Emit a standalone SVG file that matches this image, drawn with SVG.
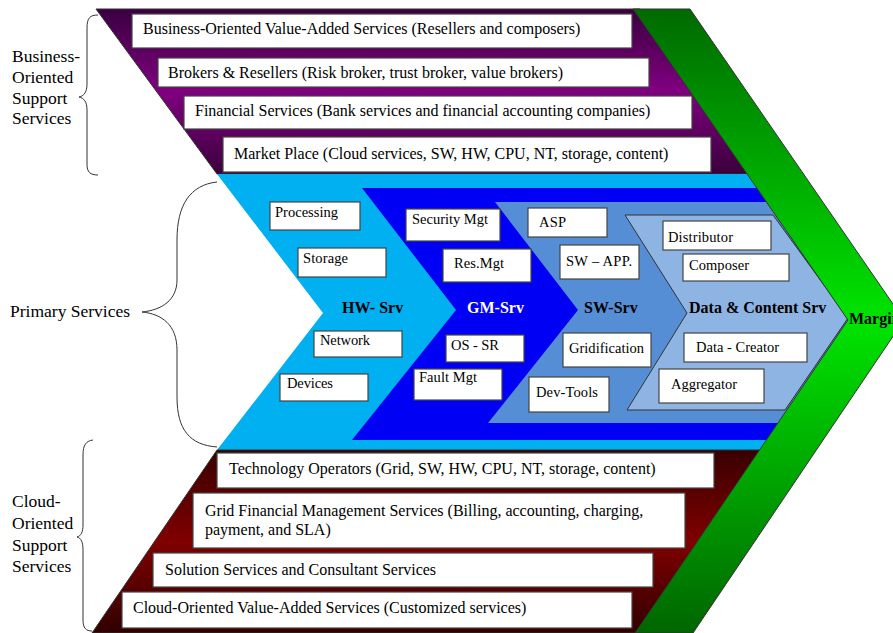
<svg xmlns="http://www.w3.org/2000/svg" width="893" height="633" viewBox="0 0 893 633">
<defs>
<linearGradient id="gPurple" x1="0" y1="0" x2="0" y2="1">
<stop offset="0" stop-color="#3a0040"/><stop offset="0.5" stop-color="#800080"/><stop offset="1" stop-color="#3a003c"/>
</linearGradient>
<linearGradient id="gMaroon" x1="0" y1="0" x2="0" y2="1">
<stop offset="0" stop-color="#380000"/><stop offset="0.5" stop-color="#800000"/><stop offset="1" stop-color="#300000"/>
</linearGradient>
<linearGradient id="gGreen" gradientUnits="userSpaceOnUse" x1="0" y1="9" x2="0" y2="633">
<stop offset="0" stop-color="#006a00"/><stop offset="0.5" stop-color="#00e400"/><stop offset="1" stop-color="#006600"/>
</linearGradient>
</defs>
<style>
.box{fill:#fff;stroke:#444;stroke-width:1.2}
.t{font-family:"Liberation Serif","Times New Roman",serif;font-size:16px;fill:#000}
.s{font-family:"Liberation Serif","Times New Roman",serif;font-size:14.5px;fill:#000}
.b{font-family:"Liberation Serif","Times New Roman",serif;font-size:16px;font-weight:bold;fill:#000}
.lab{font-family:"Liberation Serif","Times New Roman",serif;font-size:17.5px;fill:#000}
.brace{fill:none;stroke:#333;stroke-width:1}
</style>
<rect width="893" height="633" fill="#fff"/>

<g id="business-band">
<polygon points="96,9 640,9 760,174 217,174" fill="url(#gPurple)" stroke="#333" stroke-width="1"/>
</g>
<g id="primary-band">
<polygon points="217,174 770,174 875,314 775,450 217,450 323,313" fill="#00b0f0"/>
</g>
<g id="gm-chevron">
<polygon points="362,188 780,188 870,314 785,440 352,440 456,310" fill="#0000f5"/>
</g>
<g id="sw-chevron">
<polygon points="495,202 785,202 872,312 790,423 488,423 578,310" fill="#558ed5"/>
</g>
<g id="data-chevron">
<polygon points="625,215 773,215 848,318 785,410 627,410 687,313" fill="#8eb4e3" stroke="#333" stroke-width="1"/>
</g>
<g id="cloud-band">
<polygon points="217,450 775,450 650,633 92,633" fill="url(#gMaroon)" stroke="#333" stroke-width="1"/>
</g>
<g id="margin-chevron">
<polygon points="633,9 690,9 904,320 693,633 635,633 848,320" fill="url(#gGreen)" stroke="#333" stroke-width="1"/>
<text class="b" x="849" y="324">Margin</text>
</g>

<g id="business-boxes">
<g id="b1"><rect class="box" x="132" y="14" width="500" height="34"/><text class="t" x="143" y="34">Business-Oriented Value-Added Services (Resellers and composers)</text></g>
<g id="b2"><rect class="box" x="158" y="58" width="491" height="29"/><text class="t" x="168" y="78">Brokers &amp; Resellers (Risk broker, trust broker, value brokers)</text></g>
<g id="b3"><rect class="box" x="184" y="96" width="508" height="33"/><text class="t" x="195" y="116">Financial Services (Bank services and financial accounting companies)</text></g>
<g id="b4"><rect class="box" x="223" y="137" width="488" height="35"/><text class="t" x="234" y="159">Market Place (Cloud services, SW, HW, CPU, NT, storage, content)</text></g>
</g>

<g id="hw-srv">
<text class="b" x="342" y="313">HW- Srv</text>
<g id="processing"><rect class="box" x="270" y="202" width="90" height="28"/><text class="s" x="275" y="217" textLength="63">Processing</text></g>
<g id="storage"><rect class="box" x="298" y="248" width="88" height="29"/><text class="s" x="303" y="263" textLength="45">Storage</text></g>
<g id="network"><rect class="box" x="314" y="331" width="88" height="26"/><text class="s" x="320" y="345" textLength="50">Network</text></g>
<g id="devices"><rect class="box" x="280" y="374" width="88" height="27"/><text class="s" x="287" y="388" textLength="46">Devices</text></g>
</g>

<g id="gm-srv">
<text class="b" x="467" y="313" fill="#fff" style="fill:#fff">GM-Srv</text>
<g id="security"><rect class="box" x="406" y="209" width="94" height="32"/><text class="s" x="412" y="224" textLength="76">Security Mgt</text></g>
<g id="resmgt"><rect class="box" x="443" y="249" width="88" height="33"/><text class="s" x="454" y="268" textLength="50">Res.Mgt</text></g>
<g id="ossr"><rect class="box" x="446" y="335" width="78" height="27"/><text class="s" x="451" y="350" textLength="48">OS - SR</text></g>
<g id="fault"><rect class="box" x="414" y="369" width="88" height="31"/><text class="s" x="419" y="382" textLength="58">Fault Mgt</text></g>
</g>

<g id="sw-srv">
<text class="b" x="584" y="313">SW-Srv</text>
<g id="asp"><rect class="box" x="528" y="208" width="79" height="29"/><text class="s" x="539" y="227" textLength="27">ASP</text></g>
<g id="swapp"><rect class="box" x="560" y="245" width="79" height="34"/><text class="s" x="566" y="266" textLength="66">SW – APP.</text></g>
<g id="gridification"><rect class="box" x="563" y="333" width="88" height="34"/><text class="s" x="569" y="353" textLength="75">Gridification</text></g>
<g id="devtools"><rect class="box" x="529" y="377" width="80" height="35"/><text class="s" x="536" y="397" textLength="62">Dev-Tools</text></g>
</g>

<g id="data-srv">
<text class="b" x="689" y="313">Data &amp; Content Srv</text>
<g id="distributor"><rect class="box" x="663" y="221" width="108" height="29"/><text class="s" x="668" y="242" textLength="65">Distributor</text></g>
<g id="composer"><rect class="box" x="683" y="254" width="106" height="27"/><text class="s" x="689" y="270" textLength="60">Composer</text></g>
<g id="creator"><rect class="box" x="684" y="333" width="123" height="29"/><text class="s" x="696" y="352" textLength="83">Data - Creator</text></g>
<g id="aggregator"><rect class="box" x="659" y="369" width="105" height="34"/><text class="s" x="671" y="389" textLength="66">Aggregator</text></g>
</g>

<g id="cloud-boxes">
<g id="c1"><rect class="box" x="217" y="453" width="497" height="35"/><text class="t" x="229" y="474">Technology Operators (Grid, SW, HW, CPU, NT, storage, content)</text></g>
<g id="c2"><rect class="box" x="193" y="493" width="492" height="55"/><text class="t" x="205" y="516">Grid Financial Management Services (Billing, accounting, charging,</text><text class="t" x="205" y="535">payment, and SLA)</text></g>
<g id="c3"><rect class="box" x="153" y="553" width="500" height="34"/><text class="t" x="165" y="575">Solution Services and Consultant Services</text></g>
<g id="c4"><rect class="box" x="122" y="592" width="510" height="36"/><text class="t" x="133" y="613">Cloud-Oriented Value-Added Services (Customized services)</text></g>
</g>

<g id="connectors">
<path class="brace" d="M98,15 C90,15 87,18 87,28 L87,84 C87,92 84,96 79,97 C84,98 87,102 87,110 L87,164 C87,172 90,175 98,175"/>
<path class="brace" d="M217,182 C190,185 177,205 177,240 L177,280 C177,300 162,310 142,312 C162,314 177,325 177,350 L177,397 C177,430 190,445 217,447"/>
<path class="brace" d="M93,440 C86,441 83,445 83,455 L83,525 C83,532 81,536 77,537 C81,538 83,542 83,550 L83,620 C83,628 86,631 92,631"/>
</g>

<g id="labels">
<text class="lab" x="12" y="62">Business-</text>
<text class="lab" x="12" y="83">Oriented</text>
<text class="lab" x="12" y="104">Support</text>
<text class="lab" x="12" y="124">Services</text>
<text class="lab" x="10" y="317">Primary Services</text>
<text class="lab" x="12" y="507">Cloud-</text>
<text class="lab" x="12" y="529">Oriented</text>
<text class="lab" x="12" y="551">Support</text>
<text class="lab" x="12" y="572">Services</text>
</g>
</svg>
